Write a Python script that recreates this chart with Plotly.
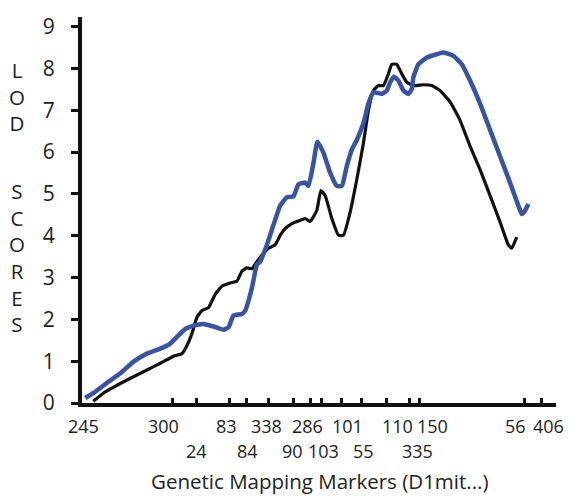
import plotly.graph_objects as go

# Marker names and their map positions (arbitrary position units along chromosome 1)
marker_names = ["245", "300", "24", "83", "84", "338", "90", "286", "103", "101",
                "55", "110", "335", "150", "56", "406"]
marker_pos = [0.0, 19.0, 24.1, 31.1, 34.6, 39.3, 44.6, 48.3, 50.6, 54.8,
              58.9, 64.2, 69.1, 71.3, 93.3, 97.0]
marker_row = [1, 1, 2, 1, 2, 1, 2, 1, 2, 1, 2, 1, 2, 1, 1, 1]
# horizontal nudge of each label (px) so that neighbouring labels do not collide
label_nudge = [1, -9, 0, -3, 1, -2, -1, -3, 2, 6, 2, 11, 8, 13, -9, 7]

# Black LOD curve
black_x = [2.38, 4.55, 9.49, 13.70, 16.51, 19.31, 21.08, 21.99, 23.19, 24.25, 25.30, 26.69,
           28.10, 29.52, 31.27, 32.68, 33.73, 34.79, 35.84, 36.90, 38.29, 39.34, 40.75,
           41.81, 42.86, 44.28, 46.03, 47.08, 48.13, 49.55, 50.39, 51.30, 52.71, 54.10,
           55.16, 56.57, 57.98, 59.37, 60.43, 61.48, 62.53, 63.59, 64.64, 65.36, 66.41,
           67.47, 68.52, 69.91, 72.02, 73.79, 75.54, 77.65, 79.76, 81.87, 83.98, 86.09,
           88.19, 89.94, 90.66, 91.71]
black_y = [0.04, 0.24, 0.55, 0.79, 0.95, 1.12, 1.18, 1.34, 1.66, 2.05, 2.21, 2.28,
           2.60, 2.79, 2.87, 2.91, 3.15, 3.23, 3.21, 3.38, 3.58, 3.70, 3.78,
           4.01, 4.17, 4.29, 4.37, 4.41, 4.34, 4.61, 5.08, 4.96, 4.41, 4.01,
           4.01, 4.56, 5.35, 6.21, 7.00, 7.47, 7.59, 7.59, 7.87, 8.10, 8.10,
           7.87, 7.67, 7.59, 7.61, 7.59, 7.47, 7.20, 6.76, 6.14, 5.58, 4.96,
           4.33, 3.78, 3.70, 3.97]

# Blue LOD curve
blue_x = [0.70, 2.45, 5.27, 8.08, 10.88, 13.70, 16.51, 18.62, 20.37, 21.78, 23.53, 25.64,
          27.75, 29.85, 30.91, 31.96, 33.73, 34.43, 35.84, 36.90, 37.59, 39.00, 40.40,
          41.81, 43.22, 44.61, 45.67, 47.08, 47.78, 48.83, 49.67, 50.94, 52.35, 53.76,
          54.82, 55.87, 56.93, 57.98, 59.37, 60.43, 61.48, 63.25, 64.31, 65.00, 65.84,
          66.75, 67.81, 68.86, 69.58, 69.91, 70.97, 72.74, 74.85, 76.24, 78.35, 80.12,
          81.87, 83.98, 86.09, 88.19, 90.30, 92.05, 92.77, 93.46, 94.16]
blue_y = [0.12, 0.24, 0.48, 0.71, 0.99, 1.18, 1.30, 1.42, 1.62, 1.77, 1.85, 1.89,
          1.83, 1.75, 1.81, 2.09, 2.13, 2.21, 2.75, 3.31, 3.38, 3.78, 4.26,
          4.72, 4.92, 4.94, 5.23, 5.27, 5.19, 5.74, 6.25, 5.98, 5.51, 5.19,
          5.19, 5.67, 6.06, 6.29, 6.69, 7.16, 7.43, 7.39, 7.47, 7.67, 7.80,
          7.71, 7.47, 7.39, 7.51, 7.79, 8.10, 8.26, 8.34, 8.38, 8.30, 8.10,
          7.71, 7.16, 6.53, 5.90, 5.27, 4.72, 4.52, 4.60, 4.76]

y_ticks = list(range(0, 10))
y_label_top = ["L", "O", "D"]
y_label_bottom = ["S", "C", "O", "R", "E", "S"]
x_title = "Genetic Mapping Markers (D1mit...)"

FONT = "Open Sans, Lato, sans-serif"
TXT = "#222222"

fig = go.Figure()
fig.add_trace(go.Scatter(x=black_x, y=black_y, mode="lines",
                         line=dict(color="#111111", width=3.2, shape="spline", smoothing=0.4),
                         showlegend=False, hoverinfo="skip"))
fig.add_trace(go.Scatter(x=blue_x, y=blue_y, mode="lines",
                         line=dict(color="#3653a8", width=4.5, shape="spline", smoothing=0.4),
                         showlegend=False, hoverinfo="skip"))

fig.update_xaxes(range=[0, 100], showgrid=False, zeroline=False,
                 showline=True, linecolor="#111111", linewidth=4,
                 tickmode="array", tickvals=marker_pos, showticklabels=False,
                 ticks="inside", ticklen=5, tickwidth=3, tickcolor="#111111")
fig.update_yaxes(range=[0, 9.23], showgrid=False, zeroline=False,
                 showline=True, linecolor="#111111", linewidth=4,
                 tickmode="array", tickvals=y_ticks,
                 ticks="outside", ticklen=7, tickwidth=3, tickcolor="#111111",
                 tickfont=dict(family=FONT, size=21, color=TXT),
                 ticklabelstandoff=12)

top_px = 13
plot_h = 390


def py2paper(py):
    return (top_px + plot_h - py) / plot_h


annotations = []
row_y = {1: 426, 2: 452}
for name, pos, row, nudge in zip(marker_names, marker_pos, marker_row, label_nudge):
    annotations.append(dict(text=name, x=pos, xref="x", y=py2paper(row_y[row]), yref="paper",
                            xshift=nudge, xanchor="center", yanchor="middle",
                            showarrow=False, font=dict(family=FONT, size=18, color=TXT)))

lbl_font = dict(family=FONT, size=20.5, color=TXT)
annotations += [
    dict(text="<br>".join(y_label_top), x=-0.137, y=py2paper(93.5),
         xref="paper", yref="paper", xanchor="center", yanchor="middle",
         showarrow=False, font=lbl_font),
    dict(text="<br>".join(y_label_bottom), x=-0.137, y=py2paper(255.5),
         xref="paper", yref="paper", xanchor="center", yanchor="middle",
         showarrow=False, font=lbl_font),
    dict(text=x_title, x=0.502, y=py2paper(482),
         xref="paper", yref="paper", xanchor="center", yanchor="middle",
         showarrow=False, font=dict(family=FONT, size=20.5, color=TXT)),
]

fig.update_layout(width=571, height=496, margin=dict(l=82, r=15, t=13, b=93),
                  plot_bgcolor="white", paper_bgcolor="white",
                  annotations=annotations)

fig.write_html("out.html", config={"displayModeBar": False},
               post_script="document.body.style.margin='0';document.body.style.overflow='hidden';")
